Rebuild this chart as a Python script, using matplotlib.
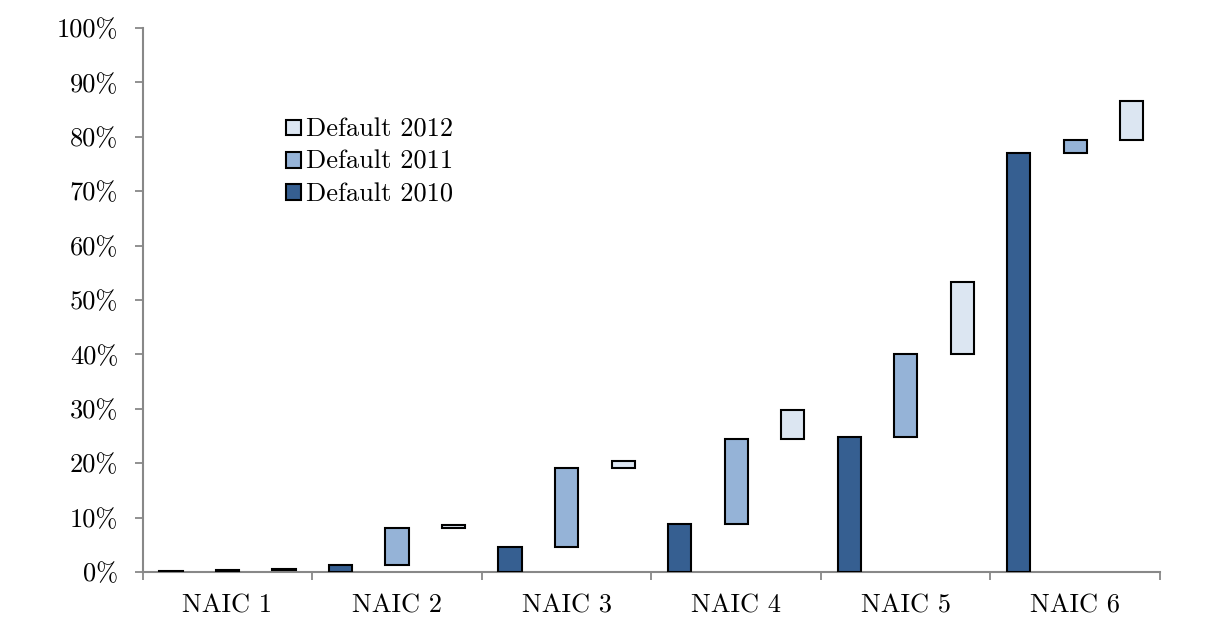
import numpy as np
import matplotlib.pyplot as plt
from matplotlib.patches import Patch

# cumulative default rate (%) by NAIC class, end of each year
categories = ["NAIC 1", "NAIC 2", "NAIC 3", "NAIC 4", "NAIC 5", "NAIC 6"]
cum_2010 = [0.1, 1.3, 4.6, 8.8, 24.8, 77.1]
cum_2011 = [0.3, 8.0, 19.1, 24.4, 40.1, 79.4]
cum_2012 = [0.5, 8.7, 20.4, 29.7, 53.3, 86.6]

colors = {"2010": "#365F91", "2011": "#95B3D7", "2012": "#DCE6F2"}

plt.rcParams["font.family"] = ["cmr10", "DejaVu Serif"]
plt.rcParams["axes.formatter.use_mathtext"] = True

fig = plt.figure(figsize=(12.09, 6.21), dpi=100)
ax = fig.add_axes([0.118, 0.079, 0.8415, 0.876])

n = len(categories)
base = np.arange(n) * 3
w = 0.41
kw = dict(width=w, edgecolor="black", linewidth=1.5, zorder=3)

# each year's bar floats from the previous year's cumulative level
ax.bar(base, cum_2010, bottom=0, color=colors["2010"], **kw)
ax.bar(base + 1, np.subtract(cum_2011, cum_2010), bottom=cum_2010,
       color=colors["2011"], **kw)
ax.bar(base + 2, np.subtract(cum_2012, cum_2011), bottom=cum_2011,
       color=colors["2012"], **kw)

ax.set_xlim(-0.5, 3 * n - 0.5)
ax.set_ylim(0, 100)
ax.set_yticks(np.arange(0, 101, 10))
ax.set_yticklabels([f"{v}%" for v in range(0, 101, 10)])
ax.set_xticks(np.arange(0, 3 * n + 1, 3) - 0.5)
ax.set_xticklabels([])
ax.set_xticks(base + 1, minor=True)
ax.set_xticklabels(categories, minor=True)
ax.tick_params(axis="x", which="minor", length=0, pad=16, labelsize=19)
ax.tick_params(axis="x", which="major", length=5.5, width=1.3, color="#888888",
               direction="out")
ax.tick_params(axis="y", length=5.5, width=1.3, color="#888888", labelsize=19,
               pad=12)

for s in ["top", "right"]:
    ax.spines[s].set_visible(False)
for s in ["left", "bottom"]:
    ax.spines[s].set_color("#888888")
    ax.spines[s].set_linewidth(1.5)

handles = [Patch(facecolor=colors[y], edgecolor="black", linewidth=1.5,
                 label=f"Default {y}") for y in ["2012", "2011", "2010"]]
ax.legend(handles=handles, loc="upper left", bbox_to_anchor=(0.118, 0.878),
          frameon=False, fontsize=19, handlelength=0.55, handleheight=0.55,
          handletextpad=0.2, labelspacing=0.32)

fig.savefig("out.png", dpi=100)
